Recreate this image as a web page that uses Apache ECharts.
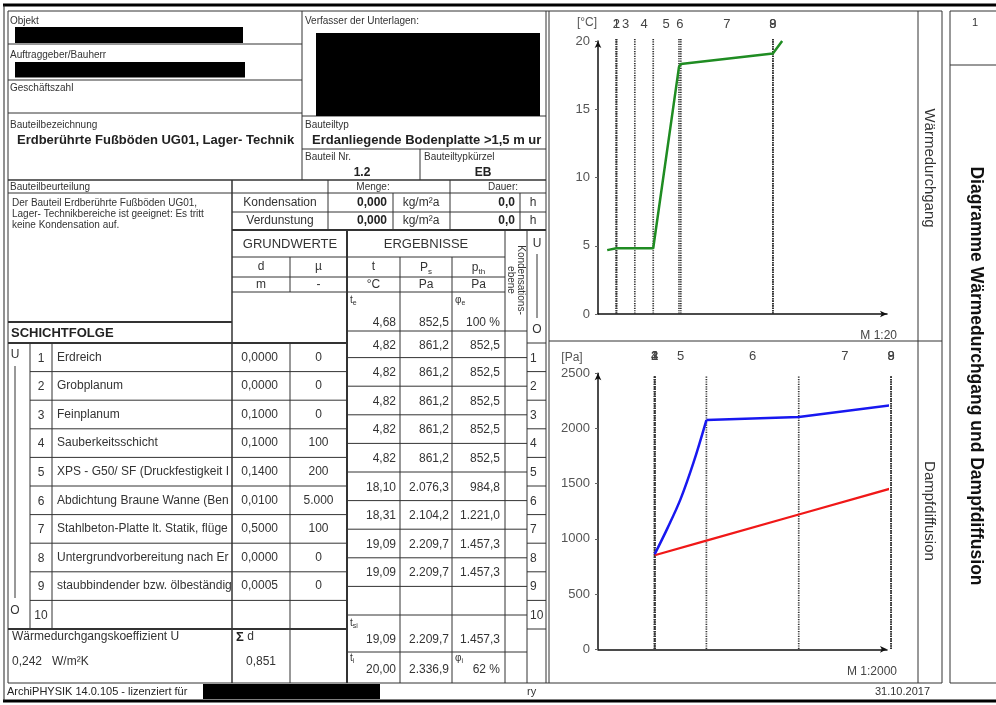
<!DOCTYPE html>
<html>
<head>
<meta charset="utf-8">
<script src="https://cdn.jsdelivr.net/npm/echarts@6/dist/echarts.min.js"></script>
<style>
html,body{margin:0;padding:0;background:#fff;}
#c{width:996px;height:705px;}
</style>
</head>
<body>
<div id="c"></div>
<script>
// ---------------- Schichtaufbau (Grundwerte) ----------------
const layerNames = [
  'Erdreich', 'Grobplanum', 'Feinplanum', 'Sauberkeitsschicht',
  'XPS - G50/ SF (Druckfestigkeit I', 'Abdichtung Braune Wanne (Ben',
  'Stahlbeton-Platte lt. Statik, flüge', 'Untergrundvorbereitung nach Er',
  'staubbindender bzw. ölbeständig', ''
];
const layerD  = [0.0000, 0.0000, 0.1000, 0.1000, 0.1400, 0.0100, 0.5000, 0.0000, 0.0005];
const layerMu = [0, 0, 0, 100, 200, 5000, 100, 0, 0];
// sd-Werte der Schichten, wie im Dampfdiffusionsdiagramm aufgetragen [m]
const layerSd = [0, 0, 0, 0, 28, 50, 50, 0, 0];

// ---------------- Ergebnisse an den Schichtgrenzen (außen -> innen) ----------------
const boundaryT  = [4.82, 4.82, 4.82, 4.82, 4.82, 18.10, 18.31, 19.09, 19.09];
const boundaryPs = [861.2, 861.2, 861.2, 861.2, 861.2, 2076.3, 2104.2, 2209.7, 2209.7];
const boundaryP  = [852.5, 852.5, 852.5, 852.5, 852.5, 984.8, 1221.0, 1457.3, 1457.3];
// Verlauf des Sättigungsdampfdrucks innerhalb der XPS-Schicht [sd ab Schichtbeginn, Pa]
const psInsideXps = [[7, 1100], [14, 1360], [21, 1690]];

// Randbedingungen
const tE = 4.68, psE = 852.5, phiE = 100;
const tSi = 19.09, psSi = 2209.7, pSi = 1457.3;
const tI = 20.00, psI = 2336.9, phiI = 62;
const uValue = 0.242, sumD = 0.851;
const kondMenge = 0.000, kondDauer = 0.0, verdMenge = 0.000, verdDauer = 0.0;
const printDate = '31.10.2017';

// Achsenteilung
const tempTicks  = [0, 5, 10, 15, 20];
const pressTicks = [0, 500, 1000, 1500, 2000, 2500];

// ---------------- Diagrammgeometrie (Maßstab) ----------------
const xSurface = 0.05;   // dargestellte Breite der Übergangszone [m]
const xStart = 0.10;     // Lage der Außenseite im Temperaturdiagramm [m]
const sdStart = 30.7;    // Lage der Außenseite im Diffusionsdiagramm [m]

const FONT = '"Liberation Sans", Arial, sans-serif';

function de(v, dec) {
  const s = v.toFixed(dec);
  let parts = s.split('.');
  let i = parts[0].replace(/\B(?=(\d{3})+(?!\d))/g, '.');
  return parts[1] !== undefined ? i + ',' + parts[1] : i;
}

// Schichtgrenzen: vor Schicht 1, danach nach jeder Schicht
const cumD = [0], cumSd = [0];
layerD.forEach((d, i) => { cumD.push(cumD[i] + d); cumSd.push(cumSd[i] + layerSd[i]); });

const tempBoundaryX = cumD.map(c => xStart + c);
const sdBoundaryX = cumSd.map(c => sdStart + c);
const tempLabelPts = layerD.map((d, i) => [xStart + cumD[i] + d / 2, i + 1]);
const sdLabelPts = layerSd.map((s, i) => [sdStart + cumSd[i] + s / 2, i + 1]);

// Temperaturverlauf
const tempLine = [[xStart - xSurface, tE]];
boundaryT.forEach((t, i) => tempLine.push([tempBoundaryX[i], t]));
tempLine.push([tempBoundaryX[9], tSi]);
tempLine.push([tempBoundaryX[9] + xSurface, tI]);

// Dampfdruckverläufe
const pLine = boundaryP.map((p, i) => [sdBoundaryX[i], p]);
pLine.push([sdBoundaryX[9], pSi]);
// Sättigungsdampfdruck: gekrümmter Abschnitt in der XPS-Schicht und Rest
const psCurve = [[sdBoundaryX[4], boundaryPs[4]]];
psInsideXps.forEach(q => psCurve.push([sdBoundaryX[4] + q[0], q[1]]));
psCurve.push([sdBoundaryX[5], boundaryPs[5]]);
const psRest = [];
boundaryPs.forEach((p, i) => { if (i >= 5) psRest.push([sdBoundaryX[i], p]); });
psRest.push([sdBoundaryX[9], psSi]);
psRest.push([sdBoundaryX[9], psI]);

// ---------------- Formular (Grafikelemente) ----------------
const g = [];
function L(x1, y1, x2, y2, w, c) {
  g.push({ type: 'line', silent: true, z: 5,
    shape: { x1: x1, y1: y1, x2: x2, y2: y2 },
    style: { stroke: c || '#333', lineWidth: w || 1 } });
}
function R(x, y, w, h, c) {
  g.push({ type: 'rect', silent: true, z: 6, shape: { x: x, y: y, width: w, height: h },
    style: { fill: c || '#000' } });
}
function T(x, y, text, o) {
  o = o || {};
  const st = {
    text: text, x: 0, y: 0, fill: o.c || '#333',
    font: (o.b ? 'bold ' : '') + (o.s || 12) + 'px ' + FONT,
    textAlign: o.a || 'left', textVerticalAlign: o.v || 'middle'
  };
  if (o.rich) st.rich = o.rich;
  if (o.lh) st.lineHeight = o.lh;
  g.push({ type: 'text', silent: true, z: 10, x: x, y: y, rotation: o.r || 0, style: st });
}
function sub(main, s, size) {
  return {
    text: '{m|' + main + '}{s|' + s + '}',
    rich: {
      m: { fontSize: size, fontFamily: FONT, fill: '#333', lineHeight: size + 2, verticalAlign: 'bottom' },
      s: { fontSize: Math.round(size * 0.7), fontFamily: FONT, fill: '#333', lineHeight: size + 2, verticalAlign: 'bottom', padding: [0, 0, -2, 0] }
    }
  };
}
function TS(x, y, main, s, size, o) {
  o = o || {};
  const r = sub(main, s, size);
  T(x, y, r.text, Object.assign({ s: size, rich: r.rich }, o));
}

// Außenrahmen
L(3, 5, 996, 5, 3, '#000');
L(3, 701, 996, 701, 3, '#000');
L(4, 5, 4, 701, 1, '#222');
L(8, 11, 942, 11, 1);
L(950, 11, 996, 11, 1);
L(8, 11, 8, 683, 1);
L(8, 683, 942, 683, 1);
L(950, 683, 996, 683, 1);
L(546, 11, 546, 683, 1);
L(549, 11, 549, 683, 1);
L(918, 11, 918, 683, 1);
L(942, 11, 942, 683, 1);
L(950, 11, 950, 683, 1);
L(549, 341, 942, 341, 1);
L(950, 65, 996, 65, 1);

// Kopf
L(302, 11, 302, 180, 1);
L(8, 44, 302, 44, 1);
L(8, 80, 302, 80, 1);
L(8, 113, 302, 113, 1);
L(302, 116, 546, 116, 1);
L(302, 149, 546, 149, 1);
L(420, 149, 420, 180, 1);
L(8, 180, 546, 180, 1.5);

T(10, 21, 'Objekt', { s: 10 });
R(15, 27, 228, 16);
T(10, 55, 'Auftraggeber/Bauherr', { s: 10 });
R(15, 62, 230, 15.5);
T(10, 88, 'Geschäftszahl', { s: 10 });
T(10, 125, 'Bauteilbezeichnung', { s: 10 });
T(17, 140, 'Erdberührte Fußböden UG01, Lager- Technik', { s: 13, b: 1, c: '#222' });
T(305, 21, 'Verfasser der Unterlagen:', { s: 10 });
R(316, 33, 224, 83);
T(305, 125, 'Bauteiltyp', { s: 10 });
T(312, 140, 'Erdanliegende Bodenplatte >1,5 m ur', { s: 13, b: 1, c: '#222' });
T(305, 157, 'Bauteil Nr.', { s: 10 });
T(424, 157, 'Bauteiltypkürzel', { s: 10 });
T(362, 173, '1.2', { s: 12, b: 1, a: 'center', c: '#222' });
T(483, 173, 'EB', { s: 12, b: 1, a: 'center', c: '#222' });

// Beurteilung / Kondensation
L(8, 193, 546, 193, 1);
L(232, 180, 232, 683, 1.5);
L(328, 180, 328, 230, 1);
L(450, 180, 450, 230, 1);
L(393, 193, 393, 230, 1);
L(520, 193, 520, 230, 1);
L(232, 212, 546, 212, 1);
L(232, 230, 546, 230, 2);
L(8, 322, 232, 322, 2);
L(8, 343, 347, 343, 2);

T(10, 187, 'Bauteilbeurteilung', { s: 10 });
T(12, 203, 'Der Bauteil Erdberührte Fußböden UG01,', { s: 10 });
T(12, 214, 'Lager- Technikbereiche ist geeignet: Es tritt', { s: 10 });
T(12, 225, 'keine Kondensation auf.', { s: 10 });
T(11, 333, 'SCHICHTFOLGE', { s: 13, b: 1, c: '#222' });

T(373, 187, 'Menge:', { s: 10, a: 'center' });
T(503, 187, 'Dauer:', { s: 10, a: 'center' });
[['Kondensation', kondMenge, kondDauer, 203], ['Verdunstung', verdMenge, verdDauer, 221]].forEach(r => {
  T(280, r[3], r[0], { s: 12, a: 'center' });
  T(387, r[3], de(r[1], 3), { s: 12, b: 1, a: 'right', c: '#222' });
  T(421, r[3], 'kg/m²a', { s: 12, a: 'center' });
  T(515, r[3], de(r[2], 1), { s: 12, b: 1, a: 'right', c: '#222' });
  T(533, r[3], 'h', { s: 12, a: 'center' });
});

// Tabellenkopf
L(347, 230, 347, 683, 2);
L(505, 230, 505, 683, 1);
L(527, 230, 527, 683, 1);
L(290, 257, 290, 292, 1);
L(290, 343, 290, 683, 1);
L(400, 257, 400, 683, 1);
L(452, 257, 452, 683, 1);
L(232, 257, 505, 257, 1);
L(232, 277, 505, 277, 1);
L(232, 292, 505, 292, 1);
L(347, 331, 527, 331, 1);
L(527, 343, 546, 343, 1);

T(290, 244, 'GRUNDWERTE', { s: 13, a: 'center' });
T(426, 244, 'ERGEBNISSE', { s: 13, a: 'center' });
T(261, 267, 'd', { s: 12, a: 'center' });
T(318.5, 267, 'µ', { s: 12, a: 'center' });
T(373.5, 267, 't', { s: 12, a: 'center' });
TS(426, 267, 'P', 's', 12, { a: 'center' });
TS(478.5, 267, 'p', 'th', 12, { a: 'center' });
T(261, 284.5, 'm', { s: 12, a: 'center' });
T(318.5, 284.5, '-', { s: 12, a: 'center' });
T(373.5, 284.5, '°C', { s: 12, a: 'center' });
T(426, 284.5, 'Pa', { s: 12, a: 'center' });
T(478.5, 284.5, 'Pa', { s: 12, a: 'center' });
T(516, 280, 'Kondensations-\nebene', { s: 10, a: 'center', r: -Math.PI / 2, lh: 10 });
T(537, 244, 'U', { s: 12, a: 'center' });
L(537, 254, 537, 318, 1);
T(537, 330, 'O', { s: 12, a: 'center' });

// Außenluft
TS(350, 299, 't', 'e', 10, {});
T(396, 323, de(tE, 2), { s: 12, a: 'right' });
T(449, 323, de(psE, 1), { s: 12, a: 'right' });
TS(455, 299, 'φ', 'e', 10, {});
T(500, 323, phiE + ' %', { s: 12, a: 'right' });

// Schichtfolge
const rowH = 28.6, rowTop = 343;
T(15, 355, 'U', { s: 12, a: 'center' });
L(15, 366, 15, 598, 1);
T(15, 611, 'O', { s: 12, a: 'center' });
L(30, 343, 30, 629, 1);
L(52, 343, 52, 629, 1);
layerNames.forEach((name, k) => {
  const y0 = rowTop + rowH * k, cy = y0 + rowH / 2;
  if (k > 0) L(30, y0, 347, y0, 1);
  L(527, y0 + rowH, 546, y0 + rowH, 1);
  T(41, cy + 1, String(k + 1), { s: 12, a: 'center' });
  T(530, cy + 1, String(k + 1), { s: 12 });
  if (k < layerD.length) {
    T(57, cy, name, { s: 12 });
    T(278, cy, de(layerD[k], 4), { s: 12, a: 'right' });
    T(318.5, cy, de(layerMu[k], 0), { s: 12, a: 'center' });
  }
});
L(8, 629, 347, 629, 2);

// Ergebnisse an den Grenzflächen
const ifTop = [331];
for (let j = 0; j < 10; j++) ifTop.push(357.6 + rowH * j);
for (let j = 1; j < ifTop.length; j++) L(347, ifTop[j], 527, ifTop[j], 1);
L(347, 652, 527, 652, 1);
boundaryT.forEach((t, j) => {
  const cy = (ifTop[j] + ifTop[j + 1]) / 2 + 1;
  T(396, cy, de(t, 2), { s: 12, a: 'right' });
  T(449, cy, de(boundaryPs[j], 1), { s: 12, a: 'right' });
  T(500, cy, de(boundaryP[j], 1), { s: 12, a: 'right' });
});
TS(350, 622, 't', 'si', 10, {});
T(396, 640, de(tSi, 2), { s: 12, a: 'right' });
T(449, 640, de(psSi, 1), { s: 12, a: 'right' });
T(500, 640, de(pSi, 1), { s: 12, a: 'right' });
TS(350, 657, 't', 'i', 10, {});
T(396, 670, de(tI, 2), { s: 12, a: 'right' });
T(449, 670, de(psI, 1), { s: 12, a: 'right' });
TS(455, 657, 'φ', 'i', 10, {});
T(500, 670, phiI + ' %', { s: 12, a: 'right' });

// U-Wert
T(12, 637, 'Wärmedurchgangskoeffizient U', { s: 12 });
T(12, 662, de(uValue, 3) + '   W/m²K', { s: 12 });
T(236, 637, '{b|Σ} d', { s: 12, rich: { b: { fontSize: 13, fontWeight: 'bold', fontFamily: FONT, fill: '#222' } } });
T(276, 662, de(sumD, 3), { s: 12, a: 'right' });

// Fußzeile
T(7, 692, 'ArchiPHYSIK 14.0.105 - lizenziert für', { s: 11, c: '#222' });
R(203, 684, 177, 15);
T(527, 692, 'ry', { s: 11 });
T(930, 692, printDate, { s: 11, a: 'right' });

// Diagrammbeschriftung
T(587, 23, '[°C]', { s: 12, a: 'center', c: '#555' });
T(572, 358, '[Pa]', { s: 12, a: 'center', c: '#555' });
T(897, 336, 'M 1:20', { s: 12, a: 'right', c: '#444' });
T(897, 672, 'M 1:2000', { s: 12, a: 'right', c: '#444' });
T(929, 168, 'Wärmedurchgang', { s: 15, a: 'center', r: -Math.PI / 2 });
T(929, 511, 'Dampfdiffusion', { s: 15, a: 'center', r: -Math.PI / 2 });
T(975, 23, '1', { s: 11, a: 'center' });
T(976, 376, 'Diagramme Wärmedurchgang und Dampfdiffusion', { s: 17.5, b: 1, a: 'center', r: -Math.PI / 2, c: '#111' });

// ---------------- Diagramme ----------------
function boundarySeries(xi, data, yTop) {
  return {
    type: 'custom', xAxisIndex: xi, yAxisIndex: xi, silent: true, z: 2,
    data: data.map(x => [x, 0]),
    renderItem: function (params, api) {
      const a = api.coord([api.value(0), yTop]);
      const b = api.coord([api.value(0), 0]);
      return { type: 'line', shape: { x1: a[0], y1: a[1], x2: b[0], y2: b[1] },
        style: { stroke: '#333', lineWidth: 1.7, lineDash: [1.2, 1.2] } };
    }
  };
}
function layerLabelSeries(xi, data, yTop) {
  return {
    type: 'custom', xAxisIndex: xi, yAxisIndex: xi, silent: true, z: 3,
    data: data,
    renderItem: function (params, api) {
      const c = api.coord([api.value(0), yTop]);
      return { type: 'text', x: c[0], y: c[1] - 17,
        style: { text: String(api.value(1)), textAlign: 'center', textVerticalAlign: 'middle',
          fill: '#444', font: '13px ' + FONT } };
    }
  };
}
const axisLineStyle = { color: '#111', width: 1.5 };
function yAxisDef(gi, ticks) {
  return {
    type: 'value', gridIndex: gi,
    min: ticks[0], max: ticks[ticks.length - 1], interval: ticks[1] - ticks[0],
    axisLine: { show: true, lineStyle: axisLineStyle, symbol: ['none', 'arrow'], symbolSize: [5, 7] },
    axisTick: { show: true, length: 3, lineStyle: { color: '#666' } },
    axisLabel: { color: '#555', fontSize: 13, fontFamily: FONT, margin: 8, padding: [0, 0, 7, 0],
      formatter: v => String(v) },
    splitLine: { show: false }
  };
}
function xAxisDef(gi, max) {
  return {
    type: 'value', gridIndex: gi, min: 0, max: max,
    axisLine: { show: true, onZero: false, lineStyle: axisLineStyle, symbol: ['none', 'arrow'], symbolSize: [5, 7] },
    axisTick: { show: false }, axisLabel: { show: false }, splitLine: { show: false }
  };
}
function pressLine(data, color, width, smooth) {
  return {
    type: 'line', xAxisIndex: 1, yAxisIndex: 1, data: data, clip: false, smooth: smooth || false,
    symbol: 'none', lineStyle: { color: color, width: width }, z: 4
  };
}

const option = {
  animation: false,
  backgroundColor: '#fff',
  grid: [
    { left: 598, top: 41, width: 289, height: 273 },
    { left: 598, top: 373.3, width: 289, height: 276 }
  ],
  xAxis: [xAxisDef(0, 1.57), xAxisDef(1, 156.5)],
  yAxis: [yAxisDef(0, tempTicks), yAxisDef(1, pressTicks)],
  series: [
    boundarySeries(0, tempBoundaryX, 20.15),
    layerLabelSeries(0, tempLabelPts, 20),
    {
      type: 'line', xAxisIndex: 0, yAxisIndex: 0, data: tempLine, clip: false,
      symbol: 'none', lineStyle: { color: '#1f8c22', width: 2.5 }, z: 4
    },
    boundarySeries(1, sdBoundaryX, 2470),
    layerLabelSeries(1, sdLabelPts, 2500),
    pressLine(pLine, '#f01818', 2.2),
    pressLine(psCurve, '#1818f0', 2.5, 0.35),
    pressLine(psRest, '#1818f0', 2.5)
  ],
  graphic: { elements: g }
};

const chart = echarts.init(document.getElementById('c'));
chart.setOption(option);
</script>
</body>
</html>
